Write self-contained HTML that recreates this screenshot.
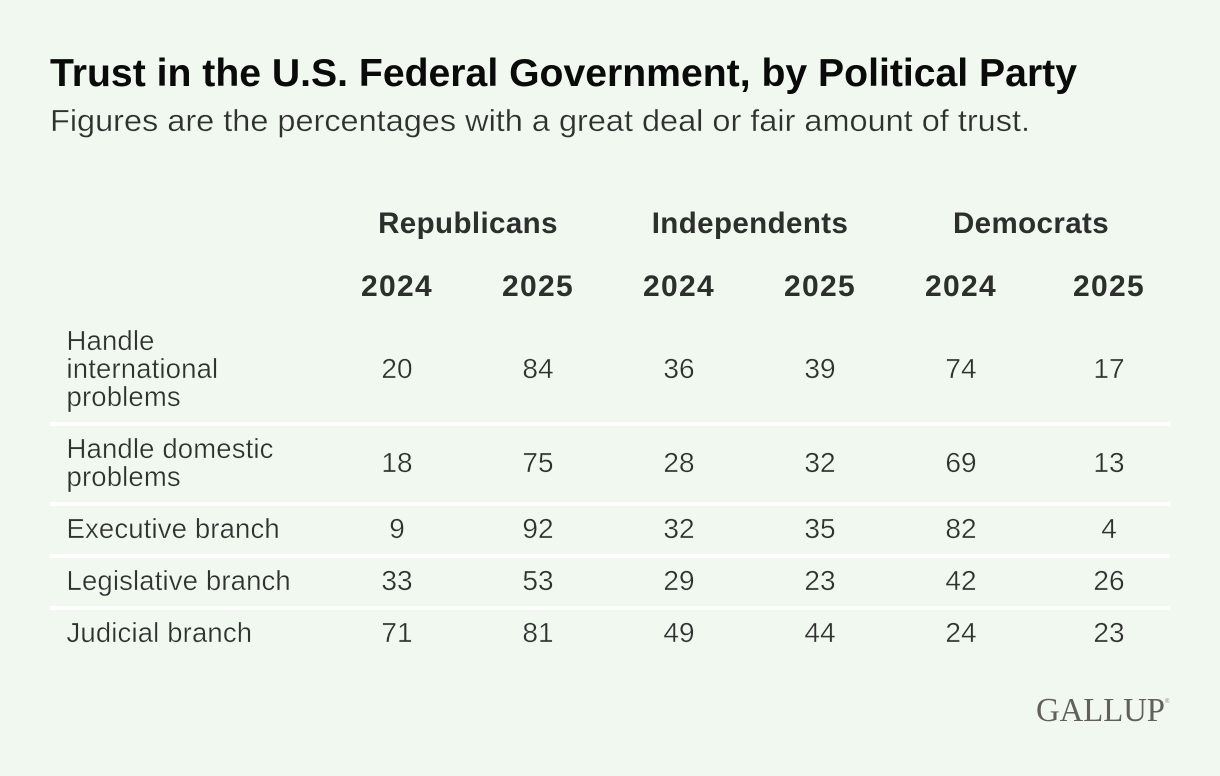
<!DOCTYPE html>
<html lang="en">
<head>
<meta charset="utf-8">
<title>Trust in the U.S. Federal Government, by Political Party</title>
<style>
html,body{margin:0;padding:0;background:#f0f8f0;width:1220px;height:776px;overflow:hidden}
svg{display:block}
text{font-family:"Liberation Sans",sans-serif}
.head{font-weight:700;fill:#2d2f2d;text-anchor:middle}
.cell{font-size:28px;fill:#2f312f;stroke:#f0f8f0;stroke-width:.35px;text-anchor:middle}
.label{font-size:27.5px;letter-spacing:.15px;fill:#2f312f;stroke:#f0f8f0;stroke-width:.35px}
</style>
</head>
<body>
<svg id="chart" width="1220" height="776" viewBox="0 0 1220 776" xmlns="http://www.w3.org/2000/svg">
  <rect width="1220" height="776" fill="#f0f8f0"/>
  <text x="50" y="86" font-size="39" font-weight="700" fill="#0a0a0a" textLength="1027" lengthAdjust="spacingAndGlyphs">Trust in the U.S. Federal Government, by Political Party</text>
  <text x="50" y="131" font-size="31" fill="#2f312f" stroke="#f0f8f0" stroke-width=".3" textLength="980" lengthAdjust="spacingAndGlyphs">Figures are the percentages with a great deal or fair amount of trust.</text>
  <text x="1036" y="721" font-size="34" fill="#625f5d" textLength="129" lengthAdjust="spacingAndGlyphs" style="font-family:'Liberation Serif',serif">GALLUP</text>
  <text x="1165" y="703" font-size="6" fill="#888888">®</text>
</svg>
<script>
const parties = ["Republicans", "Independents", "Democrats"];
const years = ["2024", "2025", "2024", "2025", "2024", "2025"];
const rowLabels = [
  ["Handle", "international", "problems"],
  ["Handle domestic", "problems"],
  ["Executive branch"],
  ["Legislative branch"],
  ["Judicial branch"]
];
const republicans2024 = [20, 18, 9, 33, 71];
const republicans2025 = [84, 75, 92, 53, 81];
const independents2024 = [36, 28, 32, 29, 49];
const independents2025 = [39, 32, 35, 23, 44];
const democrats2024 = [74, 69, 82, 42, 24];
const democrats2025 = [17, 13, 4, 26, 23];

const seriesList = [republicans2024, republicans2025, independents2024, independents2025, democrats2024, democrats2025];
const NS = "http://www.w3.org/2000/svg";
const svg = document.getElementById("chart");

function colX(i) { return i < 5 ? 397 + i * 141 : 1109; }
function partyX(i) { return i < 2 ? 468 + i * 282 : 1031; }

function addText(cls, x, y, str) {
  const t = document.createElementNS(NS, "text");
  t.setAttribute("class", cls);
  t.setAttribute("x", x);
  t.setAttribute("y", y);
  t.textContent = str;
  svg.appendChild(t);
  return t;
}

parties.forEach(function (p, i) {
  const el = addText("head", partyX(i), 233, p);
  el.setAttribute("font-size", "29.5");
  el.style.letterSpacing = "0.4px";
  
  
});

years.forEach(function (y, i) {
  const el = addText("head", colX(i), 296, y);
  el.setAttribute("font-size", "30");
  el.style.letterSpacing = "1.3px";
  
  
});

const lineHeight = 28;
const rowPad = 24;
let rowTop = 327;
rowLabels.forEach(function (lines, r) {
  const h = lines.length * lineHeight;
  const center = rowTop + h / 2;
  lines.forEach(function (line, k) {
    const el = addText("label", 66.5, rowTop + k * lineHeight + 23, line);
    
    
  });
  seriesList.forEach(function (series, c) {
    const el = addText("cell", colX(c), center + 9, String(series[r]));
    
    
  });
  if (r < rowLabels.length - 1) {
    const rule = document.createElementNS(NS, "rect");
    rule.setAttribute("x", 50);
    rule.setAttribute("y", rowTop + h + 11);
    rule.setAttribute("width", 1120);
    rule.setAttribute("height", 4);
    rule.setAttribute("fill", "#ffffff");
    
    
    svg.appendChild(rule);
  }
  rowTop += h + rowPad;
});
</script>
</body>
</html>
